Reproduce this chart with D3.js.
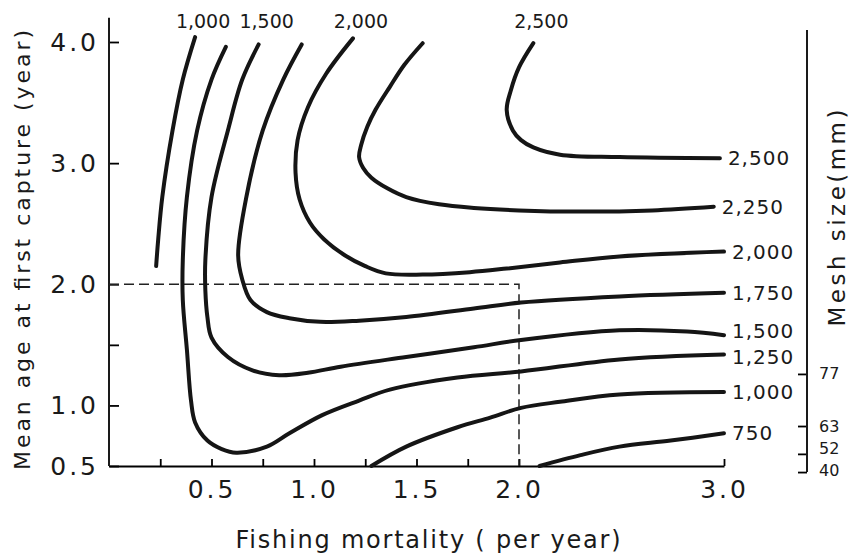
<!DOCTYPE html>
<html>
<head>
<meta charset="utf-8">
<script src="https://cdnjs.cloudflare.com/ajax/libs/d3/7.8.5/d3.min.js"></script>
<style>
  body { margin: 0; background: #fff; }
  svg text { font-family: "DejaVu Sans", sans-serif; fill: #1a1a1a; }
</style>
</head>
<body>
<div id="chart"></div>
<script>
// yield isopleths as [fishing mortality, age at first capture]
var c1000a = [[0.23,2.15],[0.24,2.37],[0.26,2.72],[0.31,3.27],[0.36,3.69],[0.42,4.04]];
var c1000b = [[1.28,0.5],[1.45,0.66],[1.70,0.82],[1.86,0.90],[2.01,0.98],[2.20,1.03],[2.49,1.09],[3.0,1.11]];
var c750 = [[2.10,0.5],[2.30,0.59],[2.49,0.66],[2.74,0.71],[3.0,0.77]];
var c1250 = [[0.57,3.96],[0.50,3.69],[0.43,3.27],[0.38,2.72],[0.36,2.20],[0.36,1.87],[0.38,1.46],[0.40,1.04],
  [0.42,0.86],[0.48,0.71],[0.55,0.64],[0.62,0.61],[0.77,0.66],[0.88,0.77],[1.04,0.92],[1.22,1.04],[1.37,1.13],
  [1.70,1.23],[2.01,1.28],[2.49,1.38],[3.0,1.42]];
var c1500 = [[0.73,3.98],[0.65,3.69],[0.58,3.27],[0.50,2.72],[0.47,2.20],[0.47,1.95],[0.48,1.73],[0.50,1.56],
  [0.58,1.40],[0.70,1.29],[0.83,1.25],[0.97,1.27],[1.13,1.32],[1.45,1.40],[1.78,1.48],[2.01,1.54],[2.49,1.62],
  [2.82,1.61],[3.0,1.58]];
var c1750 = [[0.94,3.98],[0.85,3.69],[0.75,3.27],[0.67,2.72],[0.63,2.24],[0.65,2.04],[0.69,1.87],[0.77,1.77],
  [0.88,1.72],[1.03,1.69],[1.22,1.70],[1.45,1.73],[1.78,1.80],[2.01,1.85],[2.49,1.90],[3.0,1.93]];
var c2000 = [[1.19,4.03],[1.06,3.74],[0.97,3.46],[0.92,3.19],[0.91,2.92],[0.93,2.70],[0.98,2.51],[1.05,2.37],
  [1.15,2.24],[1.25,2.15],[1.35,2.09],[1.53,2.08],[1.76,2.10],[1.94,2.13],[2.20,2.18],[2.49,2.23],[3.0,2.27]];
var c2250 = [[1.53,3.99],[1.44,3.81],[1.37,3.63],[1.30,3.44],[1.26,3.30],[1.23,3.15],[1.22,3.05],[1.24,2.96],
  [1.28,2.88],[1.36,2.79],[1.45,2.72],[1.61,2.66],[1.78,2.63],[2.0,2.61],[2.30,2.60],[2.65,2.61],[2.95,2.64]];
var c2500 = [[2.07,3.99],[2.0,3.79],[1.96,3.60],[1.94,3.44],[1.97,3.27],[2.01,3.19],[2.07,3.13],[2.20,3.07],
  [2.49,3.05],[2.98,3.04]];

// labels: where the contour value is written (top end or right end)
var topLabels = ["1,000", "1,500", "2,000", "2,500"];
var topCurves = [c1000a, c1500, c2000, c2500];
var rightLabels = ["2,500", "2,250", "2,000", "1,750", "1,500", "1,250", "1,000", "750"];
var rightCurves = [c2500, c2250, c2000, c1750, c1500, c1250, c1000b, c750];

// axes
var xTicks = [0.25, 0.5, 0.75, 1.0, 1.25, 1.5, 1.75, 2.0, 3.0];
var xLabelled = [0.5, 1.0, 1.5, 2.0, 3.0];
var yTicks = [0.5, 1.0, 1.5, 2.0, 3.0, 4.0];
var meshSizes = [40, 52, 63, 77];
var meshAges = [0.45, 0.60, 0.83, 1.26];
var refF = 2.0, refAge = 2.0;

var width = 849, height = 557;

var svg = d3.select("#chart")
  .append("svg")
    .attr("width", width)
    .attr("height", height);

var x = d3.scaleLinear().domain([0, 3]).range([109, 724]);
var y = d3.scaleLinear().domain([0.5, 4]).range([466, 42]);
var mesh = d3.scaleLinear().domain(meshSizes).range(meshAges.map(function(a) { return y(a); }));

// bottom axis
var xAxis = svg.append("g")
  .attr("transform", "translate(0," + y(0.5) + ")")
  .call(d3.axisBottom(x).tickValues(xTicks).tickSizeInner(-7).tickSizeOuter(0).tickPadding(14)
    .tickFormat(function(d) { return xLabelled.indexOf(d) >= 0 ? d3.format(".1f")(d) : ""; }));
xAxis.attr("font-size", null).attr("font-family", null);
xAxis.select(".domain").attr("stroke-width", 2);
xAxis.selectAll(".tick line").attr("stroke-width", 1.8);
xAxis.selectAll(".tick text").style("font-size", "25px").style("letter-spacing", "3px");

// left axis
var yAxis = svg.append("g")
  .attr("transform", "translate(" + x(0) + ",0)")
  .call(d3.axisLeft(y).tickValues(yTicks).tickSizeInner(-10).tickSizeOuter(0).tickPadding(10)
    .tickFormat(function(d) { return d === 1.5 ? "" : d3.format(".1f")(d); }));
yAxis.attr("font-size", null).attr("font-family", null);
yAxis.select(".domain").remove();
yAxis.selectAll(".tick line").attr("stroke-width", 1.8);
yAxis.selectAll(".tick text").style("font-size", "25px").style("letter-spacing", "3px");
svg.append("line")
  .attr("x1", x(0)).attr("x2", x(0))
  .attr("y1", y(0.5)).attr("y2", y(4.2))
  .attr("stroke", "#1a1a1a").attr("stroke-width", 2);

// right axis: mesh size
var mAxis = svg.append("g")
  .attr("transform", "translate(807,0)")
  .call(d3.axisRight(mesh).tickValues(meshSizes).tickSizeInner(-9).tickSizeOuter(0).tickPadding(12));
mAxis.attr("font-size", null).attr("font-family", null);
mAxis.select(".domain").remove();
mAxis.selectAll(".tick line").attr("stroke-width", 1.8);
// 52 and 40 sit close together, pull them apart a little
mAxis.selectAll(".tick text").style("font-size", "16px")
  .attr("dy", function(d) { return d === 40 ? 3 : (d === 52 ? 0 : 5); });
svg.append("line")
  .attr("x1", 807).attr("x2", 807)
  .attr("y1", mesh(40)).attr("y2", y(4.1))
  .attr("stroke", "#1a1a1a").attr("stroke-width", 2);

// dashed guide at F = 2.0, tc = 2.0
svg.append("path")
  .attr("d", "M" + x(0) + "," + y(refAge) + "H" + x(refF) + "V" + y(0.5))
  .attr("fill", "none")
  .attr("stroke", "#222")
  .attr("stroke-width", 1.5)
  .attr("stroke-dasharray", "10,5");

// contours
var line = d3.line()
  .x(function(d) { return x(d[0]); })
  .y(function(d) { return y(d[1]); })
  .curve(d3.curveCatmullRom.alpha(0.5));

var curves = [c1000a, c1000b, c750, c1250, c1500, c1750, c2000, c2250, c2500];
svg.selectAll(".iso")
  .data(curves)
  .enter()
  .append("path")
    .attr("class", "iso")
    .attr("d", line)
    .attr("fill", "none")
    .attr("stroke", "#151515")
    .attr("stroke-width", 4)
    .attr("stroke-linecap", "round");

// upper end of a curve = the end point with the larger age
function topEnd(c) {
  var a = c[0], b = c[c.length - 1];
  return a[1] > b[1] ? a : b;
}

// contour values along the top
svg.selectAll(".toplab")
  .data(topLabels)
  .enter()
  .append("text")
    .attr("class", "toplab")
    .attr("x", function(d, i) { return x(topEnd(topCurves[i])[0]) + 8; })
    .attr("y", 21)
    .attr("dy", "0.35em")
    .attr("text-anchor", "middle")
    .style("font-size", "19px")
    .text(function(d) { return d; });

// contour values at the right
var nudge = {"1,500": -4, "1,250": 2};
svg.selectAll(".rightlab")
  .data(rightLabels)
  .enter()
  .append("text")
    .attr("class", "rightlab")
    .attr("x", function(d, i) { var p = rightCurves[i][rightCurves[i].length - 1]; return x(p[0]) + 8; })
    .attr("y", function(d, i) { var p = rightCurves[i][rightCurves[i].length - 1]; return y(p[1]) + (nudge[d] || 0); })
    .attr("dy", "0.35em")
    .style("font-size", "20px")
    .style("letter-spacing", "1px")
    .text(function(d) { return d; });

// axis titles
svg.append("text")
  .attr("transform", "translate(30,250) rotate(-90)")
  .attr("text-anchor", "middle")
  .attr("textLength", 440)
  .attr("lengthAdjust", "spacing")
  .style("font-size", "22px")
  .text("Mean age at first capture (year)");

svg.append("text")
  .attr("x", 428)
  .attr("y", 548)
  .attr("text-anchor", "middle")
  .attr("textLength", 385)
  .attr("lengthAdjust", "spacing")
  .style("font-size", "24px")
  .text("Fishing mortality ( per year)");

svg.append("text")
  .attr("transform", "translate(845,218) rotate(-90)")
  .attr("text-anchor", "middle")
  .attr("textLength", 217)
  .attr("lengthAdjust", "spacing")
  .style("font-size", "23px")
  .text("Mesh size(mm)");
</script>
</body>
</html>
